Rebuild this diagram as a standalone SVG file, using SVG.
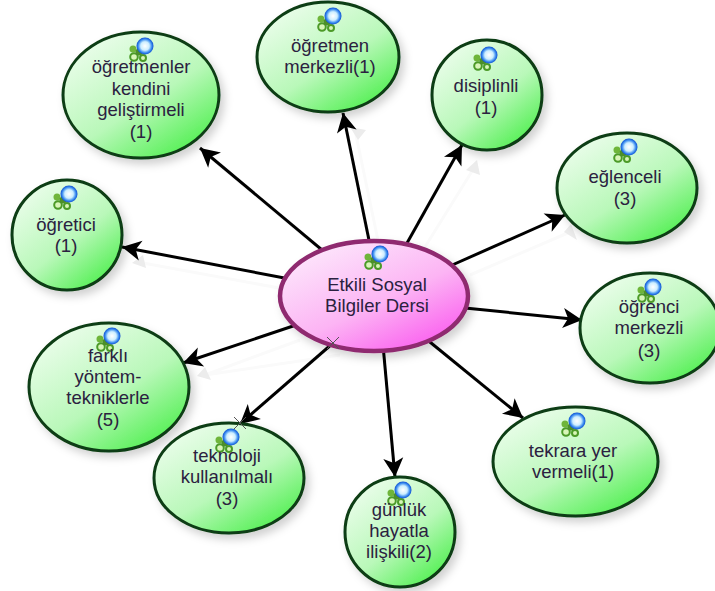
<svg xmlns="http://www.w3.org/2000/svg" width="715" height="591" viewBox="0 0 715 591">
<style>
text{font-family:"Liberation Sans",Arial,sans-serif;font-size:18.5px;fill:#2b2140;text-anchor:middle}
.n{fill:url(#g);stroke:#0c3d12;stroke-width:3;filter:url(#s)}
.l{stroke:#000;stroke-width:3;fill:none;marker-end:url(#a)}
.gh{fill:#ececec}
.gl{stroke:#fafafa;stroke-width:3;fill:none}
</style>
<defs>
<linearGradient id="g" x1="0.1" y1="0" x2="0.9" y2="1"><stop offset="0" stop-color="#f2fef2"/><stop offset="0.55" stop-color="#b9f8b9"/><stop offset="1" stop-color="#3fee3f"/></linearGradient>
<linearGradient id="p" x1="0.1" y1="0" x2="0.9" y2="1"><stop offset="0" stop-color="#fdeefd"/><stop offset="0.55" stop-color="#fcb4f4"/><stop offset="1" stop-color="#fa50ee"/></linearGradient>
<radialGradient id="b" cx="0.5" cy="0.5" r="0.5"><stop offset="0" stop-color="#fff"/><stop offset="0.5" stop-color="#cdeeff"/><stop offset="0.8" stop-color="#3a8cf0"/><stop offset="1" stop-color="#0f4fd0"/></radialGradient>
<filter id="s" x="-15%" y="-15%" width="135%" height="135%"><feDropShadow dx="4" dy="5" stdDeviation="4" flood-color="#000" flood-opacity="0.18"/></filter>
<marker id="a" markerUnits="userSpaceOnUse" markerWidth="24" markerHeight="24" refX="20" refY="12" orient="auto"><path d="M1 2L20 12L1 22L6 12Z" fill="#000"/></marker>
<g id="ic"><circle cx="-12" cy="3" r="3.500" fill="#6fb53a"/><circle cx="-11" cy="11" r="3.800" fill="#d8f5b8" stroke="#4c9a28" stroke-width="2"/><circle cx="-2" cy="12" r="3" fill="#d8f5b8" stroke="#4c9a28" stroke-width="2"/><circle cx="-6" cy="6" r="3.500" fill="#4c8f2a"/><circle r="8.500" fill="url(#b)"/></g>
</defs>
<g id="ghosts">
<path class="gl" d="M335 262L215 162M380 250L355 130M420 255L474 168M470 275L570 232M290 290L143 263M300 340L205 375M340 355L205 375"/>
<path class="gh" d="M143 255L132 263L146 268Z M205 367L197 376L211 380Z M477 160L466 170L480 175Z M571 224L564 232L577 240Z M350 127L358 140L366 130Z"/>
</g>
<g id="connectors">
<path class="l" d="M328 255L200 148"/>
<path class="l" d="M371 250L343 113"/>
<path class="l" d="M402 252L462 145"/>
<path class="l" d="M450 266L565 215"/>
<path class="l" d="M295 280L122 247"/>
<path class="l" d="M465 308L582 320"/>
<path class="l" d="M305 322L183 363"/>
<path class="l" d="M340 337L240 424"/>
<path class="l" d="M383 345L395 477"/>
<path class="l" d="M425 338L523 418"/>
</g>
<g id="n1"><ellipse class="n" cx="141" cy="95" rx="78" ry="63"/><use href="#ic" x="145" y="46"/><text x="141" y="73">öğretmenler</text><text x="141" y="95">kendini</text><text x="141" y="116">geliştirmeli</text><text x="141" y="138">(1)</text></g>
<g id="n2"><ellipse class="n" cx="328" cy="57" rx="71" ry="55"/><use href="#ic" x="333" y="16"/><text x="330" y="52">öğretmen</text><text x="330" y="73">merkezli(1)</text></g>
<g id="n3"><ellipse class="n" cx="487" cy="95" rx="55" ry="55"/><use href="#ic" x="489" y="55"/><text x="486" y="92">disiplinli</text><text x="486" y="114">(1)</text></g>
<g id="n4"><ellipse class="n" cx="627" cy="188" rx="70" ry="55"/><use href="#ic" x="629" y="147"/><text x="625" y="183">eğlenceli</text><text x="625" y="205">(3)</text></g>
<g id="n5"><ellipse class="n" cx="67" cy="235" rx="55" ry="55"/><use href="#ic" x="69" y="194"/><text x="66" y="231">öğretici</text><text x="66" y="252">(1)</text></g>
<g id="n6"><ellipse class="n" cx="650" cy="328" rx="70" ry="55"/><use href="#ic" x="653" y="287"/><text x="649" y="313">öğrenci</text><text x="649" y="334">merkezli</text><text x="649" y="357">(3)</text></g>
<g id="n7"><ellipse class="n" cx="109" cy="387" rx="80" ry="64"/><use href="#ic" x="112" y="336"/><text x="108" y="362">farklı</text><text x="108" y="383">yöntem-</text><text x="108" y="404">tekniklerle</text><text x="108" y="426">(5)</text></g>
<g id="n8"><ellipse class="n" cx="229" cy="478" rx="75" ry="55"/><use href="#ic" x="231" y="437"/><text x="227" y="462">teknoloji</text><text x="227" y="483">kullanılmalı</text><text x="227" y="505">(3)</text></g>
<g id="n9"><ellipse class="n" cx="400" cy="532" rx="55" ry="55"/><use href="#ic" x="403" y="490"/><text x="399" y="516">günlük</text><text x="399" y="537">hayatla</text><text x="399" y="558">ilişkili(2)</text></g>
<g id="n10"><ellipse class="n" cx="575.500" cy="461.500" rx="82.500" ry="54.500"/><use href="#ic" x="577" y="421"/><text x="573" y="457">tekrara yer</text><text x="573" y="478">vermeli(1)</text></g>
<g id="center"><ellipse cx="374" cy="296" rx="94" ry="55" fill="url(#p)" stroke="#8f2a6f" stroke-width="4.500" filter="url(#s)"/><use href="#ic" x="380" y="254"/><text x="377" y="291">Etkili Sosyal</text><text x="377" y="312">Bilgiler Dersi</text></g>
<path id="marks" d="M327 337L339 349M327 349L339 337M234 417L246 429M234 429L246 417" stroke="#555" stroke-width="1" fill="none"/>
</svg>
